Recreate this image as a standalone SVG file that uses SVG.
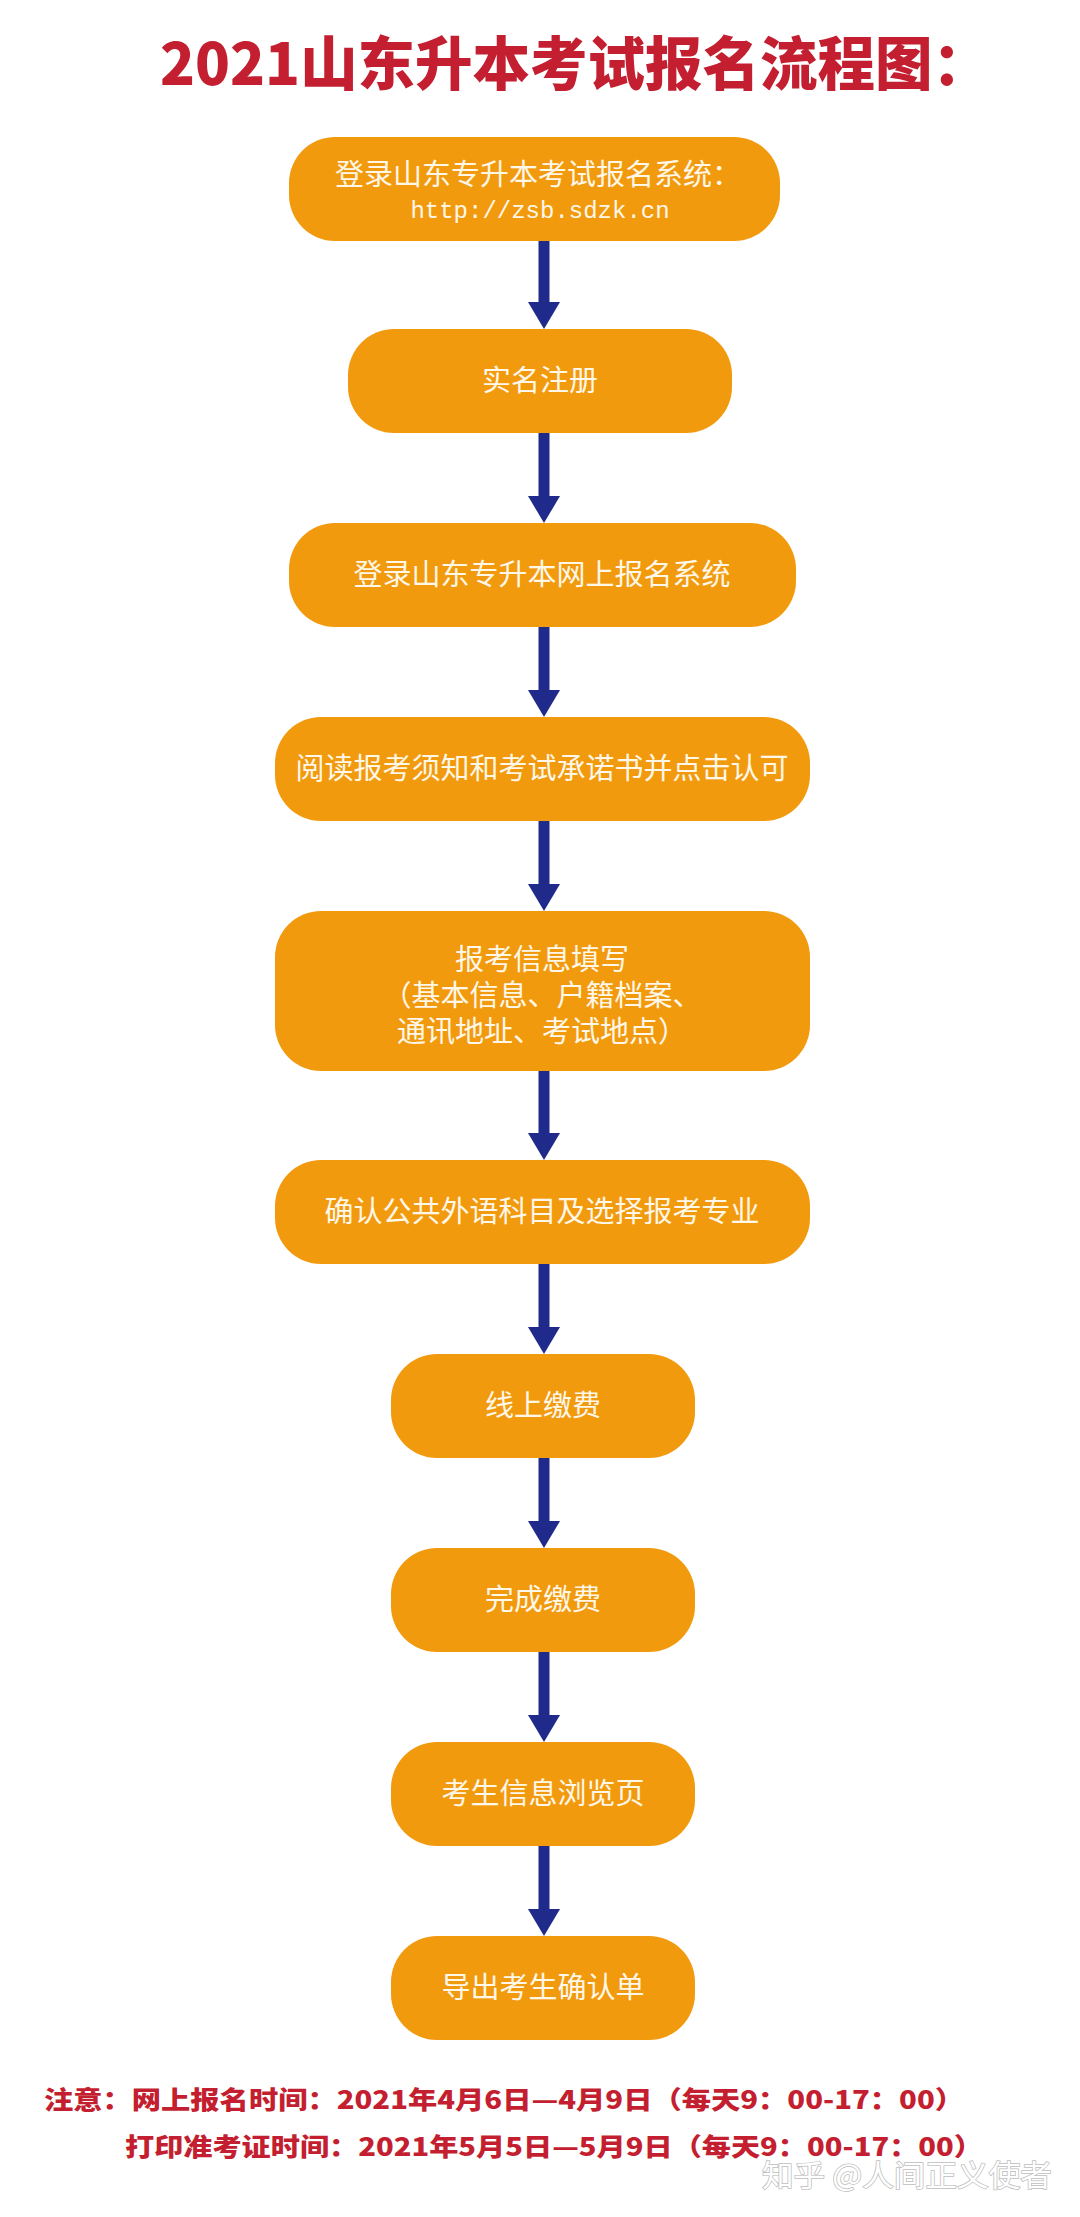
<svg xmlns="http://www.w3.org/2000/svg" width="1080" height="2217" viewBox="0 0 1080 2217">
<style>
.node rect{fill:#F29A0E}
.lbl{font-family:"Noto Sans CJK SC","Noto Sans",sans-serif;font-size:29px;fill:#FFF7E8;text-anchor:middle}
.mono{font-family:"Liberation Mono","DejaVu Sans Mono",monospace;font-size:24px;fill:#FFF7E8;text-anchor:middle}
.red{font-family:"Noto Sans CJK SC","Noto Sans",sans-serif;fill:#C41F30;font-weight:900}
.conn line{stroke:#1F2A8A;stroke-width:11}
</style>
<defs>
<marker id="ah" viewBox="0 0 27 32" refX="0" refY="16" markerWidth="27" markerHeight="32" markerUnits="userSpaceOnUse" orient="auto">
<path d="M0,0 L27,16 L0,32 Z" fill="#1F2A8A"/>
</marker>
</defs>
<rect width="1080" height="2217" fill="#FFFFFF"/>
<text id="title" class="red" x="160" y="85" font-size="58" textLength="830" lengthAdjust="spacingAndGlyphs">2021山东升本考试报名流程图：</text>
<g id="connectors" class="conn">
<line x1="544" y1="241" x2="544" y2="302" marker-end="url(#ah)"/>
<line x1="544" y1="433" x2="544" y2="496" marker-end="url(#ah)"/>
<line x1="544" y1="627" x2="544" y2="690" marker-end="url(#ah)"/>
<line x1="544" y1="821" x2="544" y2="884" marker-end="url(#ah)"/>
<line x1="544" y1="1071" x2="544" y2="1133" marker-end="url(#ah)"/>
<line x1="544" y1="1264" x2="544" y2="1327" marker-end="url(#ah)"/>
<line x1="544" y1="1458" x2="544" y2="1521" marker-end="url(#ah)"/>
<line x1="544" y1="1652" x2="544" y2="1715" marker-end="url(#ah)"/>
<line x1="544" y1="1846" x2="544" y2="1909" marker-end="url(#ah)"/>
</g>
<g id="n1" class="node"><rect x="289" y="137" width="491" height="104" rx="46"/>
<text class="lbl" x="538" y="185">登录山东专升本考试报名系统：</text>
<text class="mono" x="540" y="218">http://zsb.sdzk.cn</text></g>
<g id="n2" class="node"><rect x="348" y="329" width="384" height="104" rx="46"/>
<text class="lbl" x="540" y="391">实名注册</text></g>
<g id="n3" class="node"><rect x="289" y="523" width="507" height="104" rx="46"/>
<text class="lbl" x="542" y="585">登录山东专升本网上报名系统</text></g>
<g id="n4" class="node"><rect x="275" y="717" width="535" height="104" rx="46"/>
<text class="lbl" x="542" y="779">阅读报考须知和考试承诺书并点击认可</text></g>
<g id="n5" class="node"><rect x="275" y="911" width="535" height="160" rx="46"/>
<text class="lbl" x="542" y="970">报考信息填写</text>
<text class="lbl" x="542" y="1006">（基本信息、户籍档案、</text>
<text class="lbl" x="542" y="1042">通讯地址、考试地点）</text></g>
<g id="n6" class="node"><rect x="275" y="1160" width="535" height="104" rx="46"/>
<text class="lbl" x="542" y="1222">确认公共外语科目及选择报考专业</text></g>
<g id="n7" class="node"><rect x="391" y="1354" width="304" height="104" rx="46"/>
<text class="lbl" x="543" y="1416">线上缴费</text></g>
<g id="n8" class="node"><rect x="391" y="1548" width="304" height="104" rx="46"/>
<text class="lbl" x="543" y="1610">完成缴费</text></g>
<g id="n9" class="node"><rect x="391" y="1742" width="304" height="104" rx="46"/>
<text class="lbl" x="543" y="1804">考生信息浏览页</text></g>
<g id="n10" class="node"><rect x="391" y="1936" width="304" height="104" rx="46"/>
<text class="lbl" x="543" y="1998">导出考生确认单</text></g>
<text class="red" x="44" y="2109" font-size="25" textLength="920" lengthAdjust="spacingAndGlyphs">注意：网上报名时间：2021年4月6日—4月9日（每天9：00-17：00）</text>
<text class="red" x="125" y="2156" font-size="25" textLength="858" lengthAdjust="spacingAndGlyphs">打印准考证时间：2021年5月5日—5月9日（每天9：00-17：00）</text>
<text x="762" y="2186" font-family="Noto Sans CJK SC, Noto Sans, sans-serif" font-size="30" fill="#FFFFFF" stroke="#BDBDBD" stroke-width="1.5" paint-order="stroke" textLength="290" lengthAdjust="spacingAndGlyphs">知乎 @人间正义使者</text>
</svg>
